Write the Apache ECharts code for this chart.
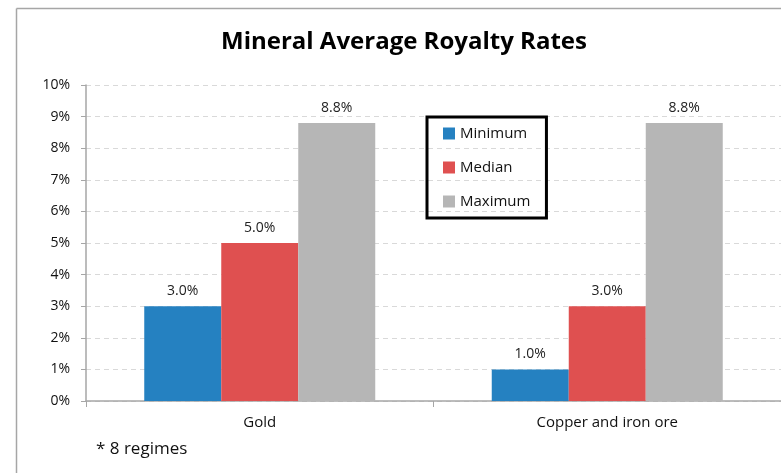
<!DOCTYPE html>
<html>
<head>
<meta charset="utf-8">
<script src="https://cdn.jsdelivr.net/npm/echarts@6/dist/echarts.min.js"></script>
<style>
  html, body { margin: 0; padding: 0; background: #fff; overflow: hidden; }
  #chart { width: 781px; height: 473px; }
</style>
</head>
<body>
<div id="chart"></div>
<script>
const categories = ['Gold', 'Copper and iron ore']
const minimum = [3.0, 1.0]
const median = [5.0, 3.0]
const maximum = [8.8, 8.8]
const yTicks = [0, 1, 2, 3, 4, 5, 6, 7, 8, 9, 10]

const font = '"Open Sans", Lato, sans-serif'

function barSeries(name, data, color) {
  return {
    name: name,
    type: 'bar',
    data: data,
    barWidth: 77,
    barGap: '0%',
    itemStyle: { color: color },
    label: {
      show: true,
      position: 'top',
      distance: 8,
      formatter: p => p.value.toFixed(1) + '%',
      fontFamily: font,
      fontSize: 14,
      color: '#222'
    },
    animation: false
  }
}

const chart = echarts.init(document.getElementById('chart'))
chart.setOption({
  backgroundColor: '#fff',
  title: {
    text: 'Mineral Average Royalty Rates',
    left: 216,
    top: 25,
    textStyle: { fontFamily: font, fontSize: 24, fontWeight: 'bold', color: '#000' }
  },
  graphic: [
    // chart frame: only top and left edges are visible in the picture
    {
      type: 'line',
      shape: { x1: 16.5, y1: 8.5, x2: 781, y2: 8.5 },
      style: { stroke: '#a6a6a6', lineWidth: 1.5 },
      z: -1
    },
    {
      type: 'line',
      shape: { x1: 16.5, y1: 8.5, x2: 16.5, y2: 473 },
      style: { stroke: '#a6a6a6', lineWidth: 1.5 },
      z: -1
    },
    {
      type: 'text',
      left: 96,
      top: 441,
      style: { text: '* 8 regimes', fontFamily: font, fontSize: 17, fill: '#111' }
    }
  ],
  legend: {
    orient: 'vertical',
    left: 427,
    top: 117,
    padding: [9, 16, 9, 16],
    itemGap: 19,
    itemWidth: 12,
    itemHeight: 12,
    borderColor: '#000',
    borderWidth: 3,
    icon: 'rect',
    textStyle: { fontFamily: font, fontSize: 15, color: '#111' },
    data: ['Minimum', 'Median', 'Maximum']
  },
  grid: { left: 86, top: 85, width: 700, height: 316, show: false, borderWidth: 0 },
  xAxis: {
    type: 'category',
    data: categories,
    axisLine: { lineStyle: { color: '#a6a6a6', width: 1.5 } },
    axisTick: { show: true, length: 6, lineStyle: { color: '#a6a6a6' } },
    axisLabel: { fontFamily: font, fontSize: 15, color: '#111', margin: 14 },
    splitLine: { show: false },
    splitArea: { show: false }
  },
  yAxis: {
    type: 'value',
    min: yTicks[0],
    max: yTicks[yTicks.length - 1],
    interval: 1,
    axisLine: { show: true, lineStyle: { color: '#a6a6a6', width: 1.5 } },
    axisTick: { show: true, length: 5, lineStyle: { color: '#a6a6a6' } },
    axisLabel: { fontFamily: font, fontSize: 14, color: '#111', margin: 16, formatter: '{value}%' },
    splitLine: { lineStyle: { color: '#d9d9d9', type: [5, 4] } }
  },
  series: [
    barSeries('Minimum', minimum, '#2581c1'),
    barSeries('Median', median, '#df5050'),
    barSeries('Maximum', maximum, '#b6b6b6')
  ]
})
</script>
</body>
</html>
